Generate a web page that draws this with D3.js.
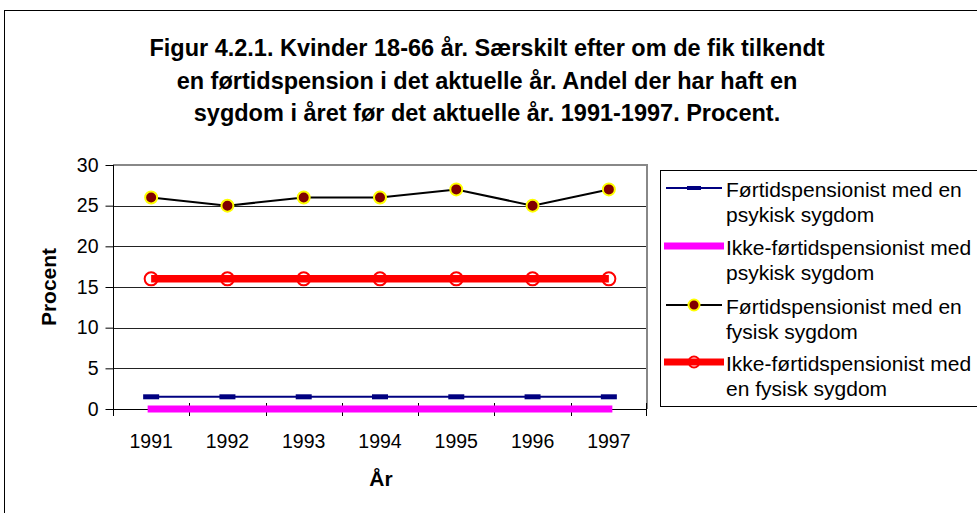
<!DOCTYPE html>
<html>
<head>
<meta charset="utf-8">
<script src="https://cdn.jsdelivr.net/npm/d3@7"></script>
<style>
  body { margin: 0; background: #fff; }
  svg { font-family: "Liberation Sans", Arial, sans-serif; }
</style>
</head>
<body>
<div id="chart"></div>
<script>
// Data
var years = ["1991", "1992", "1993", "1994", "1995", "1996", "1997"];
var psykFortid = [1.5, 1.5, 1.5, 1.5, 1.5, 1.5, 1.5];
var psykIkke = [0, 0, 0, 0, 0, 0, 0];
var fysFortid = [26, 25, 26, 26, 27, 25, 27];
var fysIkke = [16, 16, 16, 16, 16, 16, 16];
var yTicks = [0, 5, 10, 15, 20, 25, 30];
var titleLines = [
  "Figur 4.2.1. Kvinder 18-66 år. Særskilt efter om de fik tilkendt",
  "en førtidspension i det aktuelle år. Andel der har haft en",
  "sygdom i året før det aktuelle år. 1991-1997. Procent."
];
var legendLabels = [
  ["Førtidspensionist med en", "psykisk sygdom"],
  ["Ikke-førtidspensionist med", "psykisk sygdom"],
  ["Førtidspensionist med en", "fysisk sygdom"],
  ["Ikke-førtidspensionist med", "en fysisk sygdom"]
];

var W = 977, H = 513;
var plot = {left: 113, right: 647, top: 165, bottom: 409};

var svg = d3.select("#chart").append("svg")
  .attr("width", W)
  .attr("height", H);

// outer frame
svg.append("rect")
  .attr("x", 4.5).attr("y", 10.5)
  .attr("width", W + 10).attr("height", H + 10)
  .attr("fill", "none").attr("stroke", "#000");

// title
svg.append("g").selectAll("text")
  .data(titleLines).enter()
  .append("text")
  .attr("x", 487)
  .attr("y", function(d, i) { return 56 + i * 32.5; })
  .attr("text-anchor", "middle")
  .style("font-size", "23.5px")
  .style("font-weight", "bold")
  .text(function(d) { return d; });

// scales
var x = d3.scaleBand().domain(years).range([plot.left, plot.right]).padding(0);
var y = d3.scaleLinear().domain([0, 30]).range([plot.bottom, plot.top]);
function cx(d, i) { return x(years[i]) + x.bandwidth() / 2; }

// gridlines
svg.append("g").selectAll("line")
  .data(yTicks.filter(function(d) { return d > 0 && d < 30; })).enter()
  .append("line")
  .attr("x1", plot.left).attr("x2", plot.right)
  .attr("y1", function(d) { return Math.round(y(d)) + 0.5; })
  .attr("y2", function(d) { return Math.round(y(d)) + 0.5; })
  .attr("stroke", "#222").attr("stroke-width", 1);

// plot border (top + right, gray)
svg.append("path")
  .attr("d", "M" + plot.left + "," + plot.top + "H" + plot.right + "V" + plot.bottom)
  .attr("fill", "none").attr("stroke", "#888").attr("stroke-width", 2);

// y axis
var yAxis = d3.axisLeft(y).tickValues(yTicks).tickSize(8).tickPadding(7);
var gy = svg.append("g")
  .attr("transform", "translate(" + (plot.left + 0.5) + ",0)")
  .call(yAxis);
gy.select(".domain").attr("stroke", "#000").attr("d", "M0," + plot.top + "V" + (plot.bottom + 7));
gy.selectAll(".tick line").attr("stroke", "#000");
gy.selectAll(".tick text")
  .style("font-size", "19.5px").style("font-family", "Liberation Sans, Arial, sans-serif")
  .attr("fill", "#000");

// x axis: cross ticks at category boundaries
var gx = svg.append("g");
gx.append("line")
  .attr("x1", plot.left).attr("x2", plot.right)
  .attr("y1", plot.bottom + 0.5).attr("y2", plot.bottom + 0.5)
  .attr("stroke", "#000");
gx.selectAll("line.tk")
  .data(years.slice(1).concat(["end"])).enter()
  .append("line").attr("class", "tk")
  .attr("x1", function(d) { return d === "end" ? plot.right - 0.5 : Math.round(x(d)) + 0.5; })
  .attr("x2", function(d) { return d === "end" ? plot.right - 0.5 : Math.round(x(d)) + 0.5; })
  .attr("y1", plot.bottom - 6).attr("y2", plot.bottom + 7)
  .attr("stroke", "#000");
gx.selectAll("text")
  .data(years).enter()
  .append("text")
  .attr("x", function(d) { return x(d) + x.bandwidth() / 2; })
  .attr("y", plot.bottom + 39)
  .attr("text-anchor", "middle")
  .style("font-size", "19.5px")
  .text(function(d) { return d; });

// axis titles
svg.append("text")
  .attr("x", 381).attr("y", 486)
  .attr("text-anchor", "middle")
  .style("font-size", "21px").style("font-weight", "bold")
  .text("År");
svg.append("text")
  .attr("transform", "translate(56,287) rotate(-90)")
  .attr("text-anchor", "middle")
  .style("font-size", "21px").style("font-weight", "bold")
  .text("Procent");

var line = d3.line()
  .x(function(d, i) { return cx(d, i); })
  .y(function(d) { return y(d); });

// Ikke-førtidspensionist, fysisk
svg.append("path").datum(fysIkke)
  .attr("d", line).attr("fill", "none")
  .attr("stroke", "#ff0000").attr("stroke-width", 7.5);
svg.append("g").selectAll("circle")
  .data(fysIkke).enter().append("circle")
  .attr("cx", cx).attr("cy", function(d) { return y(d); })
  .attr("r", 6.5).attr("fill", "none")
  .attr("stroke", "#ff0000").attr("stroke-width", 2);

// Førtidspensionist, fysisk
svg.append("path").datum(fysFortid)
  .attr("d", line).attr("fill", "none")
  .attr("stroke", "#000").attr("stroke-width", 2);
svg.append("g").selectAll("circle")
  .data(fysFortid).enter().append("circle")
  .attr("cx", cx).attr("cy", function(d) { return y(d); })
  .attr("r", 6).attr("fill", "#800000")
  .attr("stroke", "#ffff00").attr("stroke-width", 2);

// Førtidspensionist, psykisk
svg.append("path").datum(psykFortid)
  .attr("d", line).attr("fill", "none")
  .attr("stroke", "#000080").attr("stroke-width", 2);
svg.append("g").selectAll("rect")
  .data(psykFortid).enter().append("rect")
  .attr("x", function(d, i) { return cx(d, i) - 8; })
  .attr("y", function(d) { return y(d) - 2.5; })
  .attr("width", 16).attr("height", 5)
  .attr("fill", "#000080");

// Ikke-førtidspensionist, psykisk
svg.append("path").datum(psykIkke)
  .attr("d", line).attr("fill", "none")
  .attr("stroke", "#ff00ff").attr("stroke-width", 7)
  .attr("stroke-linecap", "square");

// legend
var lg = svg.append("g");
lg.append("rect")
  .attr("x", 660.5).attr("y", 170.5)
  .attr("width", 400).attr("height", 236)
  .attr("fill", "#fff").attr("stroke", "#000");

var legY = [188, 246, 305, 362];
var items = lg.selectAll("g.item")
  .data(legendLabels).enter()
  .append("g").attr("class", "item")
  .attr("transform", function(d, i) { return "translate(0," + legY[i] + ")"; });

items.selectAll("text")
  .data(function(d) { return d; }).enter()
  .append("text")
  .attr("x", 726)
  .attr("y", function(d, j) { return 9 + j * 25; })
  .style("font-size", "21px")
  .text(function(d) { return d; });

var s0 = d3.select(items.nodes()[0]);
s0.append("line").attr("x1", 666).attr("x2", 722).attr("y1", 0).attr("y2", 0)
  .attr("stroke", "#000080").attr("stroke-width", 2);
s0.append("rect").attr("x", 687).attr("y", -2).attr("width", 14).attr("height", 4)
  .attr("fill", "#000080");

var s1 = d3.select(items.nodes()[1]);
s1.append("line").attr("x1", 664).attr("x2", 724).attr("y1", 0).attr("y2", 0)
  .attr("stroke", "#ff00ff").attr("stroke-width", 7);

var s2 = d3.select(items.nodes()[2]);
s2.append("line").attr("x1", 666).attr("x2", 722).attr("y1", 0).attr("y2", 0)
  .attr("stroke", "#000").attr("stroke-width", 2);
s2.append("circle").attr("cx", 694).attr("cy", 0).attr("r", 5.5)
  .attr("fill", "#800000").attr("stroke", "#ffff00").attr("stroke-width", 2);

var s3 = d3.select(items.nodes()[3]);
s3.append("line").attr("x1", 664).attr("x2", 724).attr("y1", 0).attr("y2", 0)
  .attr("stroke", "#ff0000").attr("stroke-width", 7);
s3.append("circle").attr("cx", 694).attr("cy", 0).attr("r", 5.5)
  .attr("fill", "none").attr("stroke", "#ff0000").attr("stroke-width", 2);
</script>
</body>
</html>
